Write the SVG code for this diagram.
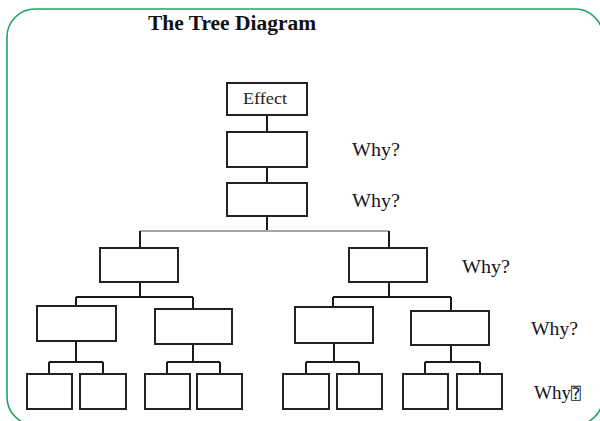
<svg xmlns="http://www.w3.org/2000/svg" width="600" height="421" viewBox="0 0 600 421">
  <style>
    .frame { fill: none; stroke: #1fa463; stroke-width: 1.6; }
    .box { fill: #ffffff; stroke: #222222; stroke-width: 2; }
    .link { fill: none; stroke: #1a1a1a; stroke-width: 2; }
    .link-gray { fill: none; stroke: #a6a6a6; stroke-width: 2; }
    .title { font-family: "Liberation Serif", "DejaVu Serif", serif; font-weight: bold; font-size: 20px; fill: #111111; }
    .label { font-family: "Liberation Serif", "DejaVu Serif", serif; font-size: 16px; fill: #222222; }
    .why { font-family: "Liberation Serif", "DejaVu Serif", serif; font-size: 19px; fill: #151525; }
  </style>

  <rect width="600" height="421" fill="#ffffff"/>

  <!-- rounded frame, running off the right and bottom edges -->
  <rect class="frame" x="7" y="9" width="596" height="416" rx="28" ry="28"/>

  <text class="title" x="148" y="30" textLength="168" lengthAdjust="spacingAndGlyphs">The Tree Diagram</text>

  <!-- connectors -->
  <g id="connectors">
    <path class="link" d="M267 115 V132 M267 167 V183 M267 216 V231"/>
    <path class="link-gray" d="M140 231 H389"/>
    <path class="link" d="M140 231 V248 M389 231 V248"/>
    <!-- level 2 to level 3 -->
    <path class="link" d="M140 282 V297 M76 297 H193 M76 297 V306 M193 297 V309"/>
    <path class="link" d="M389 282 V297 M333 297 H451 M333 297 V307 M451 297 V311"/>
    <!-- level 3 to leaves -->
    <path class="link" d="M76 341 V362 M49 362 H103 M49 362 V374 M103 362 V374"/>
    <path class="link" d="M193 344 V362 M167 362 H220 M167 362 V374 M220 362 V374"/>
    <path class="link" d="M334 343 V362 M306 362 H359 M306 362 V374 M359 362 V374"/>
    <path class="link" d="M451 345 V362 M425 362 H480 M425 362 V374 M480 362 V374"/>
  </g>

  <!-- trunk -->
  <g id="effect">
    <rect class="box" x="227" y="83" width="80" height="32"/>
    <text class="label" x="243" y="104" textLength="44" lengthAdjust="spacingAndGlyphs">Effect</text>
  </g>
  <g id="why-1"><rect class="box" x="227" y="132" width="80" height="35"/></g>
  <g id="why-2"><rect class="box" x="227" y="183" width="80" height="33"/></g>

  <!-- level 2 -->
  <g id="l2-left"><rect class="box" x="100" y="248" width="78" height="34"/></g>
  <g id="l2-right"><rect class="box" x="349" y="248" width="78" height="34"/></g>

  <!-- level 3 -->
  <g id="l3-a"><rect class="box" x="37" y="306" width="79" height="35"/></g>
  <g id="l3-b"><rect class="box" x="155" y="309" width="77" height="35"/></g>
  <g id="l3-c"><rect class="box" x="295" y="307" width="78" height="36"/></g>
  <g id="l3-d"><rect class="box" x="411" y="311" width="78" height="34"/></g>

  <!-- leaves -->
  <g id="leaf-1"><rect class="box" x="27" y="374" width="45" height="35"/></g>
  <g id="leaf-2"><rect class="box" x="80" y="374" width="46" height="35"/></g>
  <g id="leaf-3"><rect class="box" x="145" y="374" width="45" height="35"/></g>
  <g id="leaf-4"><rect class="box" x="197" y="374" width="45" height="35"/></g>
  <g id="leaf-5"><rect class="box" x="283" y="374" width="46" height="35"/></g>
  <g id="leaf-6"><rect class="box" x="337" y="374" width="45" height="35"/></g>
  <g id="leaf-7"><rect class="box" x="403" y="374" width="45" height="35"/></g>
  <g id="leaf-8"><rect class="box" x="457" y="374" width="45" height="35"/></g>

  <!-- level prompts -->
  <g id="prompts">
    <text class="why" x="352" y="156" textLength="48" lengthAdjust="spacingAndGlyphs">Why?</text>
    <text class="why" x="352" y="207" textLength="48" lengthAdjust="spacingAndGlyphs">Why?</text>
    <text class="why" x="462" y="273" textLength="48" lengthAdjust="spacingAndGlyphs">Why?</text>
    <text class="why" x="531" y="335" textLength="47" lengthAdjust="spacingAndGlyphs">Why?</text>
    <text class="why" x="534" y="399">Why<tspan font-family="'DejaVu Sans Mono', 'DejaVu Sans', monospace" font-size="16">⍰</tspan></text>
  </g>
</svg>
